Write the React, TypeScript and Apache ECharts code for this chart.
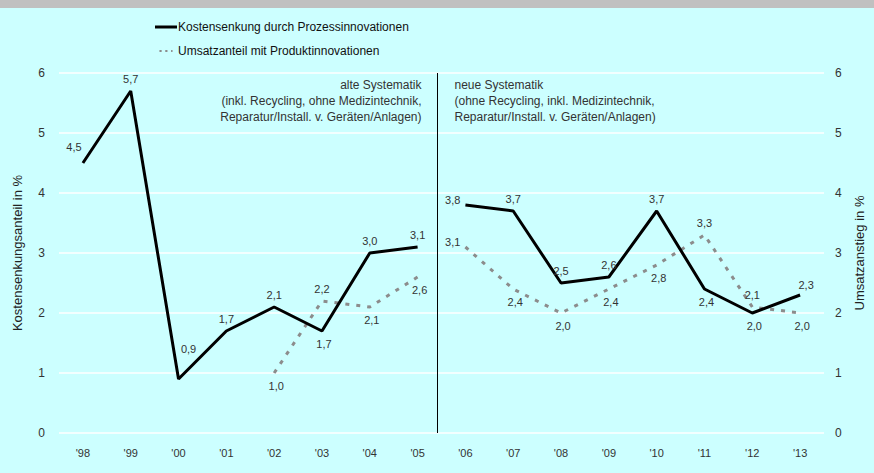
import React, { useEffect, useRef } from "react";
import * as echarts from "echarts";

const years = ["'98", "'99", "'00", "'01", "'02", "'03", "'04", "'05", "'06", "'07", "'08", "'09", "'10", "'11", "'12", "'13"];
const kostenAlt = [4.5, 5.7, 0.9, 1.7, 2.1, 1.7, 3.0, 3.1, null, null, null, null, null, null, null, null];
const kostenNeu = [null, null, null, null, null, null, null, null, 3.8, 3.7, 2.5, 2.6, 3.7, 2.4, 2.0, 2.3];
const umsatzAlt = [null, null, null, null, 1.0, 2.2, 2.1, 2.6, null, null, null, null, null, null, null, null];
const umsatzNeu = [null, null, null, null, null, null, null, null, 3.1, 2.4, 2.0, 2.4, 2.8, 3.3, 2.1, 2.0];
const kostenLabelPos = ["topLeft", "top", "farTopRight", "top", "top", "bottom", "top", "top", "left", "top", "top", "top", "top", "bottom", "bottom", "topRight"];
const umsatzLabelPos = ["", "", "", "", "bottom", "top", "bottom", "bottom", "left", "bottom", "bottom", "bottom", "bottom", "top", "top", "bottom"];
const yTicks = [0, 1, 2, 3, 4, 5, 6];
const nameK = "Kostensenkung durch Prozessinnovationen";
const nameU = "Umsatzanteil mit Produktinnovationen";
const alteText = ["alte Systematik", "(inkl. Recycling, ohne Medizintechnik,", "Reparatur/Install. v. Geräten/Anlagen)"];
const neueText = ["neue Systematik", "(ohne Recycling, inkl. Medizintechnik,", "Reparatur/Install. v. Geräten/Anlagen)"];

const FONT = "'Liberation Sans', Arial, sans-serif";
const fmt = (v: number) => v.toFixed(1).replace(".", ",");

function labelFor(pos: string) {
  if (pos === "topLeft") return { position: "top", offset: [-9, -6] };
  if (pos === "topRight") return { position: "top", offset: [6, 0] };
  if (pos === "farTopRight") return { position: "top", offset: [10, -20] };
  if (pos === "left") return { position: "left", offset: [0, -5] };
  if (pos === "bottom") return { position: "bottom", offset: [2, 2] };
  return { position: "top", offset: [0, -2] };
}

function mk(vals: (number | null)[], pos: string[]) {
  return vals.map((v, i) =>
    v == null ? null : { value: v, label: labelFor(pos[i]) }
  );
}

export default function App() {
  const ref = useRef<HTMLDivElement>(null);
  useEffect(() => {
    document.body.style.margin = "0";
    const chart = echarts.init(ref.current!, null, { renderer: "svg", width: 874, height: 473 });
    const label = {
      show: true,
      fontSize: 11,
      fontFamily: FONT,
      color: "#333",
      formatter: (p: any) => fmt(p.value),
    };
    const blackLine = { color: "#000", width: 3 };
    const grayLine = { color: "#8c8c8c", width: 3, type: [4, 7] as any };
    const common = {
      type: "line",
      symbol: "circle",
      symbolSize: 0,
      connectNulls: false,
      label,
      emphasis: { disabled: true },
    };
    chart.setOption({
      animation: false,
      backgroundColor: "#ccffff",
      textStyle: { fontFamily: FONT },
      grid: { left: 59, right: 50, top: 73, bottom: 40, outerBoundsMode: "none", containLabel: false },
      legend: {
        orient: "vertical",
        left: 150,
        top: 16,
        itemGap: 10,
        itemWidth: 22,
        itemHeight: 16,
        data: [
          { name: nameK, icon: "path://M0,0h22v3h-22z" },
          { name: nameU, icon: "path://M0,0h3v3h-3z M8,0h3v3h-3z M16,0h2v3h-2z M0,-9.5h0.01v0.01z M0,12.5h0.01v0.01z" },
        ],
        textStyle: { fontFamily: FONT, fontSize: 12, color: "#111", padding: [0, 0, 0, -4] },
      },
      xAxis: {
        type: "category",
        data: years,
        axisLine: { show: false },
        axisTick: { show: false },
        axisLabel: { color: "#333", fontSize: 11, margin: 14 },
      },
      yAxis: [
        {
          type: "value",
          min: 0,
          max: 6,
          interval: 1,
          name: "Kostensenkungsanteil in %",
          nameLocation: "middle",
          nameGap: 35,
          nameRotate: 90,
          nameTextStyle: { fontSize: 13, color: "#222" },
          axisLabel: { color: "#333", fontSize: 12, margin: 14, formatter: (v: number) => (yTicks.includes(v) ? String(v) : "") },
          splitLine: { lineStyle: { color: "#ffffff", width: 1.5 } },
          axisLine: { show: false },
          axisTick: { show: false },
        },
        {
          type: "value",
          min: 0,
          max: 6,
          interval: 1,
          position: "right",
          name: "Umsatzanstieg in %",
          nameLocation: "middle",
          nameGap: 28,
          nameRotate: 90,
          nameTextStyle: { fontSize: 13, color: "#222" },
          axisLabel: { color: "#333", fontSize: 12, margin: 11 },
          splitLine: { show: false },
          axisLine: { show: false },
          axisTick: { show: false },
        },
      ],
      series: [
        { ...common, name: nameK, data: mk(kostenAlt, kostenLabelPos), lineStyle: blackLine, itemStyle: { color: "#000" }, z: 3 },
        { ...common, name: nameK, data: mk(kostenNeu, kostenLabelPos), lineStyle: blackLine, itemStyle: { color: "#000" }, z: 3 },
        { ...common, name: nameU, yAxisIndex: 1, data: mk(umsatzAlt, umsatzLabelPos), lineStyle: grayLine, itemStyle: { color: "#8c8c8c" }, z: 2 },
        { ...common, name: nameU, yAxisIndex: 1, data: mk(umsatzNeu, umsatzLabelPos), lineStyle: grayLine, itemStyle: { color: "#8c8c8c" }, z: 2 },
      ],
    });
    const x05 = chart.convertToPixel({ xAxisIndex: 0 }, "'05") as number;
    const x06 = chart.convertToPixel({ xAxisIndex: 0 }, "'06") as number;
    const xd = Math.round((x05 + x06) / 2) - 4.5;
    const yTop = chart.convertToPixel({ yAxisIndex: 0 }, 6) as number;
    const yBot = chart.convertToPixel({ yAxisIndex: 0 }, 0) as number;
    const textStyle = { fontSize: 12, fontFamily: FONT, fill: "#333", lineHeight: 16 };
    chart.setOption({
      graphic: [
        { type: "rect", left: 0, top: 0, shape: { x: 0, y: 0, width: 874, height: 8 }, style: { fill: "#c0c0c0" }, silent: true },
        { type: "line", shape: { x1: xd, y1: yTop, x2: xd, y2: yBot }, style: { stroke: "#000", lineWidth: 1 }, silent: true },
        { type: "text", x: xd - 16, y: yTop + 4, style: { ...textStyle, text: alteText.join("\n"), align: "right", verticalAlign: "top" }, silent: true },
        { type: "text", x: xd + 17, y: yTop + 4, style: { ...textStyle, text: neueText.join("\n"), align: "left", verticalAlign: "top" }, silent: true },
      ],
    });
    return () => chart.dispose();
  }, []);
  return <div ref={ref} style={{ position: "absolute", left: 0, top: 0, width: 874, height: 473 }} />;
}
